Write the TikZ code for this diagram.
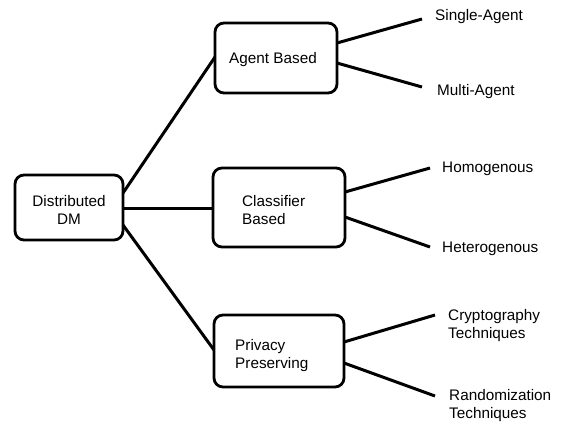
\documentclass[tikz,border=0pt]{standalone}
\usepackage{fontspec}
\setmainfont{Liberation Sans}
\begin{document}
\begin{tikzpicture}[x=1pt,y=-1pt,
  box/.style={draw,line width=2.8pt,rounded corners=9pt,inner sep=0pt},
  conn/.style={line width=3pt},
  lbl/.style={anchor=west,inner sep=0pt,align=left,font=\fontsize{15.3}{18}\selectfont},
  blbl/.style={inner sep=0pt,font=\fontsize{15.3}{18}\selectfont}]
\useasboundingbox (0,0) rectangle (565,424);
% boxes
\draw[box] (15,175) rectangle (123,240);
\node[blbl,align=center] (root) at (69,210) {Distributed\\DM};
\draw[box] (215,23) rectangle (337,93);
\node[blbl] (ab) at (273,60) {Agent Based};
\draw[box] (213,168) rectangle (345,247);
\node[lbl] (cb) at (242,210) {Classifier\\Based};
\draw[box] (214,315) rectangle (344,387);
\node[lbl] (pp) at (235,356) {Privacy\\Preserving};
% coordinates
\coordinate (r1) at (123,193);
\coordinate (r2) at (123,208);
\coordinate (r3) at (123,225);
\coordinate (a0) at (215,57);
\coordinate (c0) at (213,208);
\coordinate (p0) at (214,350);
\coordinate (a1) at (337,43);
\coordinate (a2) at (337,63);
\coordinate (c1) at (345,192);
\coordinate (c2) at (345,217);
\coordinate (p1) at (344,342);
\coordinate (p2) at (344,363);
\coordinate (ae1) at (422,19);
\coordinate (ae2) at (422,87);
\coordinate (ce1) at (430,168);
\coordinate (ce2) at (430,247);
\coordinate (pe1) at (435,315);
\coordinate (pe2) at (435,396);
% connectors
\draw[conn] (r1) -- (a0);
\draw[conn] (r2) -- (c0);
\draw[conn] (r3) -- (p0);
\draw[conn] (a1) -- (ae1);
\draw[conn] (a2) -- (ae2);
\draw[conn] (c1) -- (ce1);
\draw[conn] (c2) -- (ce2);
\draw[conn] (p1) -- (pe1);
\draw[conn] (p2) -- (pe2);
% leaf labels
\node[lbl] (sa) at (435,17) {Single-Agent};
\node[lbl] (ma) at (437,92) {Multi-Agent};
\node[lbl] (ho) at (442,169) {Homogenous};
\node[lbl] (he) at (442,249) {Heterogenous};
\node[lbl] (ct) at (448,326) {Cryptography\\Techniques};
\node[lbl] (rt) at (449,406) {Randomization\\Techniques};
\end{tikzpicture}
\end{document}
